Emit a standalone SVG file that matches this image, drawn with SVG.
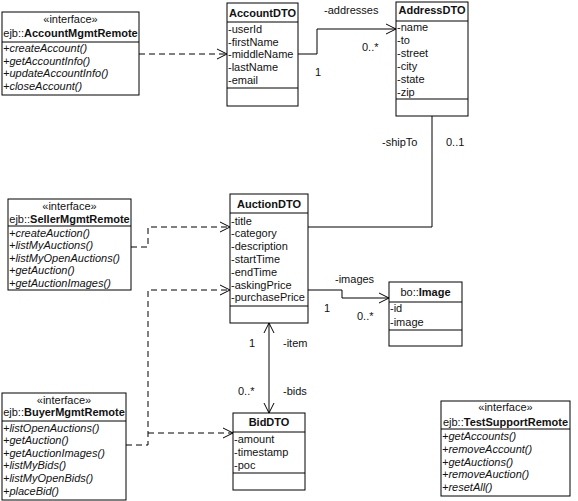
<svg xmlns="http://www.w3.org/2000/svg" width="578" height="501" viewBox="0 0 578 501">
<defs>
<marker id="open" viewBox="0 0 12 12" refX="11" refY="6" markerWidth="12" markerHeight="12" markerUnits="userSpaceOnUse" orient="auto-start-reverse">
<path d="M1,1 L11,6 L1,11" fill="none" stroke="#000" stroke-width="1"/>
</marker>
<style>
text{font-family:"Liberation Sans",Arial,sans-serif;font-size:11px;fill:#111}
.c{text-anchor:middle}
.b{font-weight:bold}
.i{font-style:italic}
.box{fill:#fff;stroke:#000;stroke-width:1}
.sep{stroke:#000;stroke-width:1}
.dash{fill:none;stroke:#000;stroke-width:1;stroke-dasharray:6,4}
.solid{fill:none;stroke:#000;stroke-width:1}
</style>
</defs>
<rect width="578" height="501" fill="#fff"/>

<g id="connectors">
<path class="dash" d="M139,54 H227" marker-end="url(#open)"/>
<path class="dash" d="M131,247 H148 V227 H230" marker-end="url(#open)"/>
<path class="dash" d="M126,445 H148 V290 H230" marker-end="url(#open)"/>
<path class="dash" d="M148,433 H233" marker-end="url(#open)"/>
<path class="solid" d="M298,54 H317 V29 H396" stroke="#555" stroke-width="1.5" marker-end="url(#open)"/>
<path class="solid" d="M432,116 V227 H308"/>
<path class="solid" d="M308,290 H342 V298 H389" marker-end="url(#open)"/>
<path class="solid" d="M269,323 V413" marker-start="url(#open)" marker-end="url(#open)"/>
<text x="324" y="14">-addresses</text>
<text x="362" y="51">0..*</text>
<text x="315" y="76">1</text>
<text x="382" y="146">-shipTo</text>
<text x="446" y="146">0..1</text>
<text x="335" y="283">-images</text>
<text x="324" y="312">1</text>
<text x="357" y="320">0..*</text>
<text x="249" y="347">1</text>
<text x="283" y="347">-item</text>
<text x="238" y="395">0..*</text>
<text x="283" y="395">-bids</text>
</g>

<g id="AccountMgmtRemote">
<rect class="box" x="2" y="12" width="137" height="83"/>
<text class="c" x="70.5" y="23">«interface»</text>
<text class="c" x="70.5" y="37">ejb::<tspan class="b">AccountMgmtRemote</tspan></text>
<line class="sep" x1="2" y1="42" x2="139" y2="42"/>
<text class="i" x="3" y="52">+createAccount()</text>
<text class="i" x="3" y="65">+getAccountInfo()</text>
<text class="i" x="3" y="77">+updateAccountInfo()</text>
<text class="i" x="3" y="90">+closeAccount()</text>
</g>

<g id="AccountDTO">
<rect class="box" x="227" y="3" width="71" height="103"/>
<text class="c b" x="262.5" y="17">AccountDTO</text>
<line class="sep" x1="227" y1="22" x2="298" y2="22"/>
<text x="228" y="33">-userId</text>
<text x="228" y="46">-firstName</text>
<text x="228" y="58">-middleName</text>
<text x="228" y="71">-lastName</text>
<text x="228" y="84">-email</text>
<line class="sep" x1="227" y1="88" x2="298" y2="88"/>
</g>

<g id="AddressDTO">
<rect class="box" x="396" y="2" width="72" height="114"/>
<text class="c b" x="432" y="14">AddressDTO</text>
<line class="sep" x1="396" y1="21" x2="468" y2="21"/>
<text x="397" y="31">-name</text>
<text x="397" y="44">-to</text>
<text x="397" y="57">-street</text>
<text x="397" y="70">-city</text>
<text x="397" y="83">-state</text>
<text x="397" y="96">-zip</text>
<line class="sep" x1="396" y1="99" x2="468" y2="99"/>
</g>

<g id="SellerMgmtRemote">
<rect class="box" x="8" y="199" width="123" height="91"/>
<text class="c" x="69.5" y="210">«interface»</text>
<text class="c" x="69.5" y="223">ejb::<tspan class="b">SellerMgmtRemote</tspan></text>
<line class="sep" x1="8" y1="226" x2="131" y2="226"/>
<text class="i" x="9" y="237">+createAuction()</text>
<text class="i" x="9" y="249">+listMyAuctions()</text>
<text class="i" x="9" y="262">+listMyOpenAuctions()</text>
<text class="i" x="9" y="274">+getAuction()</text>
<text class="i" x="9" y="287">+getAuctionImages()</text>
</g>

<g id="AuctionDTO">
<rect class="box" x="230" y="194" width="78" height="129"/>
<text class="c b" x="269" y="208">AuctionDTO</text>
<line class="sep" x1="230" y1="213" x2="308" y2="213"/>
<text x="231" y="225">-title</text>
<text x="231" y="237">-category</text>
<text x="231" y="250">-description</text>
<text x="231" y="263">-startTime</text>
<text x="231" y="276">-endTime</text>
<text x="231" y="289">-askingPrice</text>
<text x="231" y="301">-purchasePrice</text>
<line class="sep" x1="230" y1="306" x2="308" y2="306"/>
</g>

<g id="Image">
<rect class="box" x="389" y="282" width="73" height="64"/>
<text class="c" x="425.5" y="296">bo::<tspan class="b">Image</tspan></text>
<line class="sep" x1="389" y1="302" x2="462" y2="302"/>
<text x="390" y="312">-id</text>
<text x="390" y="326">-image</text>
<line class="sep" x1="389" y1="330" x2="462" y2="330"/>
</g>

<g id="BuyerMgmtRemote">
<rect class="box" x="2" y="393" width="124" height="107"/>
<text class="c" x="64" y="404">«interface»</text>
<text class="c" x="64" y="416">ejb::<tspan class="b">BuyerMgmtRemote</tspan></text>
<line class="sep" x1="2" y1="421" x2="126" y2="421"/>
<text class="i" x="3" y="432">+listOpenAuctions()</text>
<text class="i" x="3" y="444">+getAuction()</text>
<text class="i" x="3" y="457">+getAuctionImages()</text>
<text class="i" x="3" y="469">+listMyBids()</text>
<text class="i" x="3" y="482">+listMyOpenBids()</text>
<text class="i" x="3" y="495">+placeBid()</text>
</g>

<g id="BidDTO">
<rect class="box" x="233" y="413" width="72" height="77"/>
<text class="c b" x="269" y="426">BidDTO</text>
<line class="sep" x1="233" y1="432" x2="305" y2="432"/>
<text x="234" y="443">-amount</text>
<text x="234" y="456">-timestamp</text>
<text x="234" y="469">-poc</text>
<line class="sep" x1="233" y1="473" x2="305" y2="473"/>
</g>

<g id="TestSupportRemote">
<rect class="box" x="441" y="401" width="129" height="95"/>
<text class="c" x="505.5" y="411">«interface»</text>
<text class="c" x="505.5" y="426">ejb::<tspan class="b">TestSupportRemote</tspan></text>
<line class="sep" x1="441" y1="429" x2="570" y2="429"/>
<text class="i" x="442" y="440">+getAccounts()</text>
<text class="i" x="442" y="453">+removeAccount()</text>
<text class="i" x="442" y="466">+getAuctions()</text>
<text class="i" x="442" y="478">+removeAuction()</text>
<text class="i" x="442" y="491">+resetAll()</text>
</g>
</svg>
